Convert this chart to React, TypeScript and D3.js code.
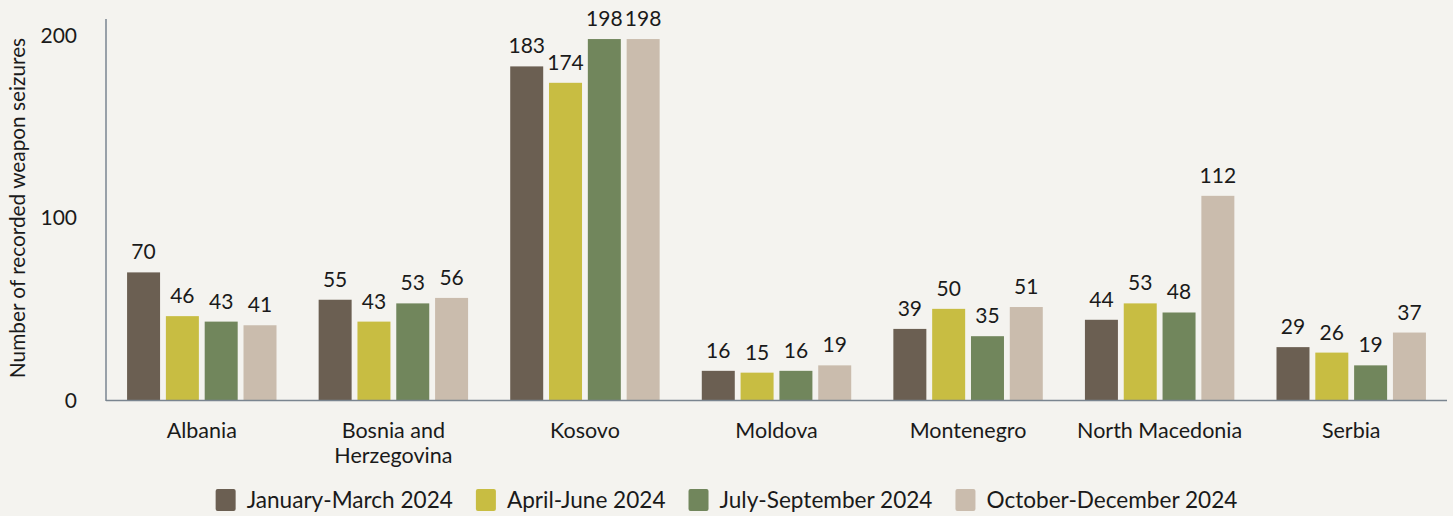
import React, { useRef, useEffect } from 'react';
import * as d3 from 'd3';

const countries = ['Albania', 'Bosnia and Herzegovina', 'Kosovo', 'Moldova', 'Montenegro', 'North Macedonia', 'Serbia'];
const quarters = ['January-March 2024', 'April-June 2024', 'July-September 2024', 'October-December 2024'];
const janMar = [70, 55, 183, 16, 39, 44, 29];
const aprJun = [46, 43, 174, 15, 50, 53, 26];
const julSep = [43, 53, 198, 16, 35, 48, 19];
const octDec = [41, 56, 198, 19, 51, 112, 37];
const yTicks = [0, 100, 200];
const colors = ['#6b5f52', '#c8bd42', '#71865c', '#cabcad'];

const W = 1453;
const H = 516;

function App() {
  const svgRef = useRef<SVGSVGElement>(null);

  useEffect(() => {
    document.body.style.margin = '0';
    const svg = d3.select(svgRef.current);
    svg.selectAll('*').remove();

    const font = 'Lato, sans-serif';
    const textColor = '#1a1a1a';
    const series = [janMar, aprJun, julSep, octDec];

    svg.append('rect').attr('width', W).attr('height', H).attr('fill', '#f4f3ef');

    const x0 = d3.scaleBand().domain(countries).range([106, 1447]).paddingInner(0.22).paddingOuter(0.11);
    const x1 = d3.scaleBand().domain(quarters).range([0, x0.bandwidth()]).paddingInner(0.15);
    const y = d3.scaleLinear().domain([0, 209]).range([400, 19]);

    // y tick labels
    svg.append('g').selectAll('text')
      .data(yTicks)
      .enter()
      .append('text')
      .attr('x', 77)
      .attr('y', d => y(d))
      .attr('dy', '0.36em')
      .attr('text-anchor', 'end')
      .attr('font-family', font)
      .attr('font-size', 21)
      .attr('fill', textColor)
      .text(d => d);

    // y title
    svg.append('text')
      .attr('transform', `translate(25, 208) rotate(-90)`)
      .attr('text-anchor', 'middle')
      .attr('font-family', font)
      .attr('font-size', 20.8)
      .attr('fill', textColor)
      .text('Number of recorded weapon seizures');

    // bars
    const groups = svg.append('g').selectAll('g')
      .data(countries)
      .enter()
      .append('g')
      .attr('transform', d => `translate(${x0(d)},0)`);

    const cells = (_: string, i: number) => quarters.map((q, k) => ({ q, v: series[k][i], k }));

    groups.selectAll('rect')
      .data(cells)
      .enter()
      .append('rect')
      .attr('x', d => x1(d.q)!)
      .attr('y', d => y(d.v))
      .attr('width', x1.bandwidth())
      .attr('height', d => y(0) - y(d.v))
      .attr('fill', d => colors[d.k]);

    groups.selectAll('text.val')
      .data(cells)
      .enter()
      .append('text')
      .attr('class', 'val')
      .attr('x', d => x1(d.q)! + x1.bandwidth() / 2)
      .attr('y', d => y(d.v) - 13)
      .attr('text-anchor', 'middle')
      .attr('font-family', font)
      .attr('font-size', 21)
      .attr('fill', textColor)
      .text(d => d.v);

    // axes lines
    svg.append('line')
      .attr('x1', 106).attr('x2', 106).attr('y1', 19).attr('y2', 401)
      .attr('stroke', '#7a8590').attr('stroke-width', 1.5);
    svg.append('line')
      .attr('x1', 106).attr('x2', 1447).attr('y1', 400.5).attr('y2', 400.5)
      .attr('stroke', '#7a8590').attr('stroke-width', 1.5);

    // category labels
    const catLines: Record<string, string[]> = {
      'Bosnia and Herzegovina': ['Bosnia and', 'Herzegovina'],
    };
    svg.append('g').selectAll('text')
      .data(countries)
      .enter()
      .append('text')
      .attr('x', d => x0(d)! + x0.bandwidth() / 2)
      .attr('y', 438)
      .attr('text-anchor', 'middle')
      .attr('font-family', font)
      .attr('font-size', 21.5)
      .attr('fill', textColor)
      .each(function (d) {
        const lines = catLines[d] || [d];
        const t = d3.select(this);
        lines.forEach((l, i) => {
          t.append('tspan')
            .attr('x', x0(d)! + x0.bandwidth() / 2)
            .attr('dy', i === 0 ? 0 : 25)
            .text(l);
        });
      });

    // legend
    const legend = svg.append('g');
    let cx = 0;
    quarters.forEach((q, k) => {
      const item = legend.append('g').attr('transform', `translate(${cx},0)`);
      item.append('rect')
        .attr('x', 0).attr('y', 489).attr('width', 20).attr('height', 22).attr('rx', 2)
        .attr('fill', colors[k]);
      const t = item.append('text')
        .attr('x', 31).attr('y', 508)
        .attr('font-family', font)
        .attr('font-size', 22.6)
        .attr('fill', textColor)
        .text(q);
      const w = (t.node() as SVGTextElement).getComputedTextLength();
      cx += 31 + w + 23;
    });
    const total = cx - 23;
    legend.attr('transform', `translate(${W / 2 - total / 2},0)`);
  }, []);

  return <svg ref={svgRef} width={W} height={H} style={{ display: 'block' }}></svg>;
}

export default App;
